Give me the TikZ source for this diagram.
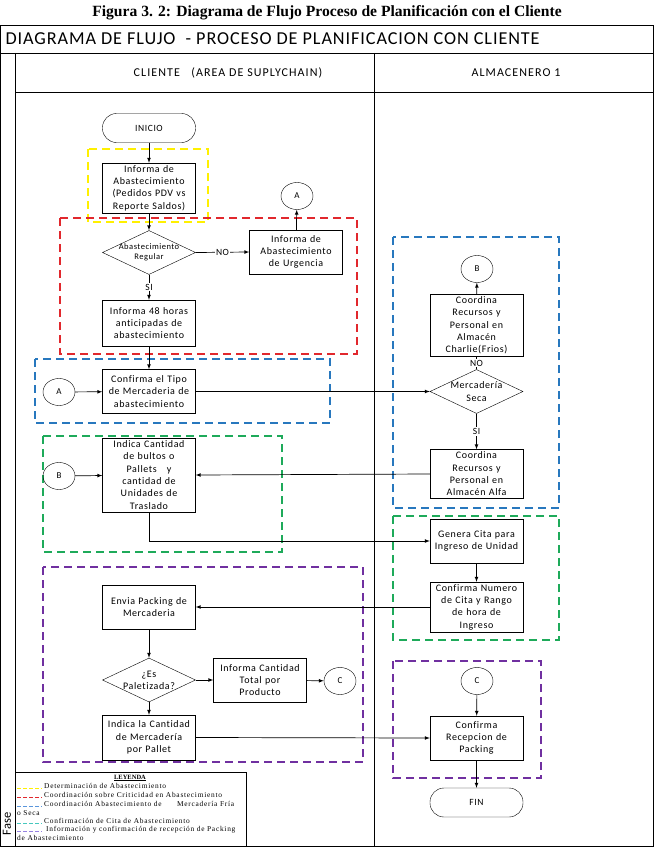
\documentclass[tikz,border=0pt]{standalone}
\usepackage{fontspec}
\setmainfont{Carlito}
\newfontfamily\boxfont[LetterSpace=6,Ligatures=NoCommon]{Carlito}
\newfontfamily\headfont[LetterSpace=5,Ligatures=NoCommon]{Carlito}
\newfontfamily\lanefont[LetterSpace=9,Ligatures=NoCommon]{Carlito}
\newfontfamily\capfont{Liberation Serif}
\newfontfamily\legfont[LetterSpace=10,Ligatures=NoCommon]{Liberation Serif}
\usepackage{tikz}
\usetikzlibrary{arrows}
\usetikzlibrary{shapes.geometric}
\definecolor{fyellow}{RGB}{255,240,0}
\definecolor{fred}{RGB}{225,40,45}
\definecolor{fblue}{RGB}{40,120,190}
\definecolor{fgreen}{RGB}{30,170,90}
\definecolor{fpurple}{RGB}{112,48,160}
\definecolor{lteal}{RGB}{70,200,190}
\definecolor{lpurple}{RGB}{150,130,225}
\definecolor{lblue}{RGB}{90,150,220}

\begin{document}
\begin{tikzpicture}[x=1pt,y=-1pt,>=latex,
    proc/.style={draw, rectangle, font=\boxfont\fontsize{10}{12.3}\selectfont, text width=88pt, align=center, inner xsep=2.5pt, inner ysep=1pt},
    term/.style={draw, rounded corners=14pt, minimum width=93pt, minimum height=29pt, font=\boxfont\fontsize{9.5}{11}\selectfont},
    decis/.style={draw, diamond, minimum width=93pt, minimum height=44pt, inner sep=0pt},
    dtext/.style={align=center, font=\boxfont\fontsize{10}{12.3}\selectfont},
    conn/.style={draw, ellipse, minimum width=32pt, minimum height=27pt, inner sep=0pt, font=\boxfont\fontsize{9}{10}\selectfont},
    fase/.style={dash pattern=on 8pt off 5pt, line width=1.4pt},
    swatch/.style={dash pattern=on 4pt off 2pt, line width=0.6pt},
    flow/.style={->, line width=0.7pt},
    lbl/.style={fill=white, inner sep=1pt, font=\boxfont\fontsize{9.5}{11}\selectfont},
    legtxt/.style={anchor=north west, align=left, inner sep=0pt, font=\legfont\fontsize{7.4}{8.8}\selectfont}]
      \useasboundingbox (0,0) rectangle (656,851);

      \node (titulo) at (327,13) {\capfont\bfseries\fontsize{15.6}{17}\selectfont Figura 3. 2: Diagrama de Flujo Proceso de Planificación con el Cliente};

      \draw[line width=0.7pt] (0.5,25) rectangle (653,846);
      \draw[line width=0.7pt] (0.5,53) -- (653,53);
      \draw[line width=0.7pt] (15,53) -- (15,846);
      \draw[line width=0.7pt] (374,53) -- (374,846);
      \draw[line width=0.7pt] (15,92) -- (653,92);

      \node[anchor=west] (cabecera) at (2,39) {\headfont\fontsize{18.2}{20}\selectfont DIAGRAMA DE FLUJO \ - PROCESO DE PLANIFICACION CON CLIENTE};
      \node (carril1) at (228,73) {\lanefont\fontsize{12}{14}\selectfont CLIENTE \ \ (AREA DE SUPLYCHAIN)};
      \node (carril2) at (516,73) {\lanefont\fontsize{12}{14}\selectfont ALMACENERO 1};
      \node[rotate=90] (fase) at (7,824) {\fontsize{12.5}{14}\selectfont Fase};

      \draw[fase, fyellow] (88,149) rectangle (208,222);
      \draw[fase, fred] (60,218) rectangle (357,354);
      \draw[fase, fblue] (35,359) rectangle (330,423);
      \draw[fase, fblue] (393,237) rectangle (559,508);
      \draw[fase, fgreen] (43,436) rectangle (282,552);
      \draw[fase, fgreen] (393,516) rectangle (559,640);
      \draw[fase, fpurple] (43,567) rectangle (363,762);
      \draw[fase, fpurple] (393,661) rectangle (541,778);

      \node[term] (inicio) at (149,128) {INICIO};
      \node[proc, minimum height=50pt] (infabast) at (149,188) {Informa de\\Abastecimiento\\(Pedidos PDV vs\\Reporte Saldos)};
      \node[decis, label={[dtext, font=\boxfont\fontsize{8.5}{10.5}\selectfont]center:Abastecimiento\\Regular}] (dregular) at (149,252.5) {};
      \node[proc, minimum height=44pt] (urgencia) at (296,252) {Informa de\\Abastecimiento\\de Urgencia};
      \node[conn] (ca1) at (297,196) {A};
      \node[proc, minimum height=46pt] (horas) at (149,323) {Informa 48 horas\\anticipadas de\\abastecimiento};
      \node[proc, minimum height=44pt] (tipo) at (149,391.5) {Confirma el Tipo\\de Mercaderia de\\abastecimiento};
      \node[conn] (ca2) at (59,392) {A};

      \node[decis, label={[dtext]center:Mercadería\\Seca}] (dseca) at (476.5,391.5) {};
      \node[proc, minimum height=62pt] (charlie) at (476.5,325.5) {Coordina\\Recursos y\\Personal en\\Almacén\\Charlie(Frios)};
      \node[conn] (cb1) at (477,269) {B};
      \node[proc, minimum height=49pt] (alfa) at (476.5,474) {Coordina\\Recursos y\\Personal en\\Almacén Alfa};

      \node[proc, minimum height=74pt] (indica) at (149,475) {Indica Cantidad\\de bultos o\\Pallets \ \ y\\cantidad de\\Unidades de\\Traslado};
      \node[conn] (cb2) at (59,476) {B};
      \node[proc, minimum height=44pt] (genera) at (476.5,541) {Genera Cita para\\Ingreso de Unidad};
      \node[proc, minimum height=50pt] (numero) at (476.5,607) {Confirma Numero\\de Cita y Rango\\de hora de\\Ingreso};

      \node[proc, minimum height=44pt] (envia) at (149,607) {Envia Packing de\\Mercaderia};
      \node[decis, label={[dtext]center:¿Es\\Paletizada?}] (dpalet) at (149,680) {};
      \node[proc, minimum height=44pt] (total) at (260,680) {Informa Cantidad\\Total por\\Producto};
      \node[conn] (cc1) at (340,681) {C};
      \node[proc, minimum height=45pt] (pallet) at (149,737.5) {Indica la Cantidad\\de Mercadería\\por Pallet};
      \node[conn] (cc2) at (477,681) {C};
      \node[proc, minimum height=44pt] (recep) at (476.5,738) {Confirma\\Recepcion de\\Packing};
      \node[term] (fin) at (476.5,802.5) {FIN};

      \draw[flow] (inicio) -- (infabast);
      \draw[flow] (infabast) -- (dregular);
      \draw[flow] (dregular.east) -- node[lbl] {NO} (urgencia.west);
      \draw[flow] (urgencia) -- (ca1);
      \draw[flow] (dregular.south) -- node[lbl] {SI} (horas.north);
      \draw[flow] (horas) -- (tipo);
      \draw[flow] (ca2) -- (tipo);
      \draw[flow] (tipo.east) -- (dseca.west);
      \draw[line width=0.7pt] (dseca.north) -- node[lbl] {NO} (charlie.south);
      \draw[flow] (charlie) -- (cb1);
      \draw[flow] (dseca.south) -- node[lbl] {SI} (alfa.north);
      \draw[flow] (alfa.west) -- (indica.east);
      \draw[flow] (cb2) -- (indica);
      \draw[flow] (indica.south) |- (genera.west);
      \draw[flow] (genera) -- (numero);
      \draw[flow] (numero.west) -- (envia.east);
      \draw[flow] (envia) -- (dpalet);
      \draw[flow] (dpalet.east) -- (total.west);
      \draw[flow] (total) -- (cc1);
      \draw[flow] (dpalet.south) -- (pallet.north);
      \draw[flow] (pallet.east) -- (recep.west);
      \draw[flow] (cc2) -- (recep);
      \draw[flow] (recep) -- (fin);

      \draw[line width=0.7pt] (15,772) rectangle (246,846);
      \node (leyenda) at (130,778) {\capfont\bfseries\fontsize{6.5}{7}\selectfont\underline{LEYENDA}};
      \node[legtxt] (ley1) at (17,783) {\hspace*{27pt}Determinación de Abastecimiento};
      \node[legtxt] (ley2) at (17,792) {\hspace*{27pt}Coordinación sobre Criticidad en Abastecimiento};
      \node[legtxt] (ley3) at (17,801) {\hspace*{27pt}Coordinación Abastecimiento de \ \ \ \ \ Mercadería Fría\\o Seca};
      \node[legtxt] (ley4) at (17,818) {\hspace*{27pt}Confirmación de Cita de Abastecimiento};
      \node[legtxt] (ley5) at (17,826) {\hspace*{29pt}Información y confirmación de recepción de Packing\\de Abastecimiento};
      \draw[swatch, fyellow] (17,788) -- (42,788);
      \draw[swatch, fred] (17,797) -- (42,797);
      \draw[swatch, lblue] (17,806) -- (42,806);
      \draw[swatch, lteal] (17,823) -- (42,823);
      \draw[swatch, lpurple] (17,831) -- (42,831);
\end{tikzpicture}
\end{document}
